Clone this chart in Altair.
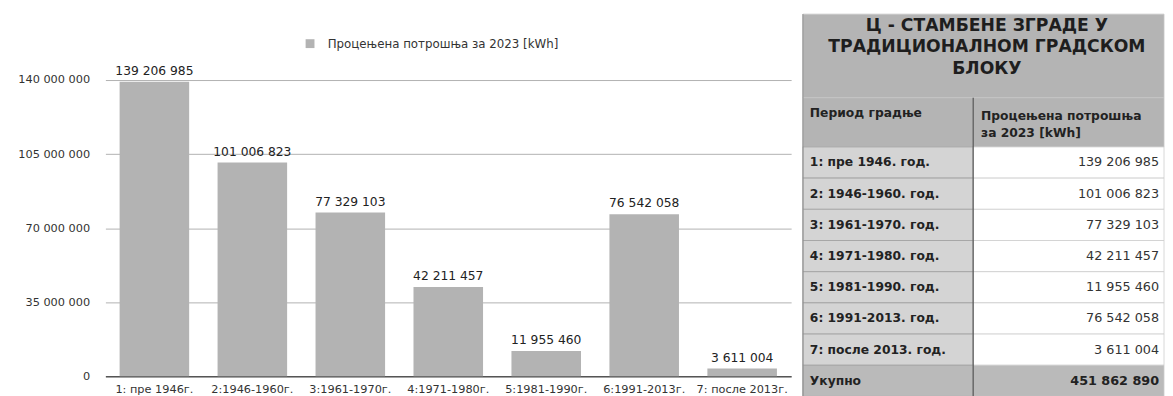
import altair as alt
import pandas as pd

# ---------------- data ----------------
categories = ["1: пре 1946г.", "2:1946-1960г.", "3:1961-1970г.", "4:1971-1980г.",
              "5:1981-1990г.", "6:1991-2013г.", "7: после 2013г."]
table_periods = ["1: пре 1946. год.", "2: 1946-1960. год.", "3: 1961-1970. год.",
                 "4: 1971-1980. год.", "5: 1981-1990. год.", "6: 1991-2013. год.",
                 "7: после 2013. год."]
values = [139206985, 101006823, 77329103, 42211457, 11955460, 76542058, 3611004]
series_name = "Процењена потрошња за 2023 [kWh]"
y_ticks = [0, 35000000, 70000000, 105000000, 140000000]
table_title = "Ц - СТАМБЕНЕ ЗГРАДЕ У\nТРАДИЦИОНАЛНОМ ГРАДСКОМ\nБЛОКУ"
header_left = "Период градње"
header_right = "Процењена потрошња\nза 2023 [kWh]"
total_label = "Укупно"


def fmt(v):
    return f"{v:,}".replace(",", " ")


# ---------------- style / layout ----------------
FONT = "DejaVu Sans"
BAR_COLOR = "#b3b3b3"
TITLE_BG = "#b4b4b4"
LABEL_BG = "#d4d4d4"
TOTAL_BG = "#bababa"

BAR_W, BAR_H = 697, 370
Y_MAX = 140000000 * BAR_H / 301.0

TW, TH = 367, 391
T_TOP, T_BOT, H_BOT, ROW_H, SPLIT = 2, 87, 137, 31.7, 173

# ---------------- bar chart ----------------
bar_df = pd.DataFrame({
    "period": categories,
    "value": values,
    "label": [fmt(v) for v in values],
    "series": [series_name] * len(values),
})

x_enc = alt.X("period:N", sort=categories,
              scale=alt.Scale(paddingInner=0.29, paddingOuter=0.145),
              axis=alt.Axis(title=None, labelAngle=0, ticks=False, labelPadding=8,
                            labelFontSize=11.5, labelColor="#333", domainColor="#555",
                            domainWidth=1.5, labelOverlap=False, grid=False))
y_enc = alt.Y("value:Q", scale=alt.Scale(domain=[0, Y_MAX], nice=False, zero=True),
              axis=alt.Axis(title=None, values=y_ticks, ticks=False, domain=False,
                            labelPadding=16, labelFontSize=11.5, labelColor="#333",
                            gridColor="#b0b0b0", gridWidth=1,
                            labelExpr="join(split(format(datum.value, ','), ','), ' ')"))

bars = alt.Chart(bar_df).mark_bar(color=BAR_COLOR).encode(
    x=x_enc, y=y_enc,
    color=alt.Color("series:N", scale=alt.Scale(range=[BAR_COLOR]),
                    legend=alt.Legend(title=None, orient="none", legendX=202, legendY=26,
                                      symbolType="square", symbolSize=81,
                                      symbolStrokeWidth=0, labelFontSize=12,
                                      labelOffset=12, labelColor="#333", labelLimit=0)),
)
bar_text = alt.Chart(bar_df).mark_text(baseline="bottom", dy=-4, fontSize=12.5,
                                       color="#222").encode(
    x=alt.X("period:N", sort=categories), y="value:Q", text="label:N")

bar_chart = alt.layer(bars, bar_text).properties(width=BAR_W, height=BAR_H)

# ---------------- table ----------------
cells = [dict(x=0, x2=TW, y=T_TOP, y2=T_BOT, fill=TITLE_BG, line="#c6c6c6"),
         dict(x=0, x2=SPLIT, y=T_BOT, y2=H_BOT, fill=TITLE_BG, line="#c6c6c6"),
         dict(x=SPLIT, x2=TW, y=T_BOT, y2=H_BOT, fill=TITLE_BG, line="#c6c6c6")]
row_labels = table_periods + [total_label]
row_values = [fmt(v) for v in values] + [fmt(sum(values))]
text_rows = []
for i, (lab, val) in enumerate(zip(row_labels, row_values)):
    y0 = H_BOT + i * ROW_H
    total = i == len(row_labels) - 1
    cells.append(dict(x=0, x2=SPLIT, y=y0, y2=y0 + ROW_H,
                      fill=TOTAL_BG if total else LABEL_BG, line="#a0a0a0"))
    cells.append(dict(x=SPLIT, x2=TW, y=y0, y2=y0 + ROW_H,
                      fill=TOTAL_BG if total else "#ffffff", line="#cdcdcd"))
    text_rows.append(dict(y=y0 + ROW_H / 2, label=lab, value=val,
                          total=1 if total else 0))
cells_df = pd.DataFrame(cells)
rows_df = pd.DataFrame(text_rows)

tx = alt.Scale(domain=[0, TW], nice=False, zero=False)
ty = alt.Scale(domain=[0, TH], nice=False, zero=False, reverse=True)

rects = alt.Chart(cells_df).mark_rect(strokeWidth=0.8).encode(
    x=alt.X("x:Q", scale=tx, axis=None), x2="x2:Q",
    y=alt.Y("y:Q", scale=ty, axis=None), y2="y2:Q",
    fill=alt.Fill("fill:N", scale=None),
    stroke=alt.Stroke("line:N", scale=None))

rules_df = pd.DataFrame([dict(x=SPLIT, y=T_BOT, y2=TH, c="#3a3a3a"),
                         dict(x=0, y=T_TOP, y2=TH, c="#8a8a8a")])
rules = alt.Chart(rules_df).mark_rule(strokeWidth=1).encode(
    x=alt.X("x:Q", scale=tx, axis=None),
    y=alt.Y("y:Q", scale=ty, axis=None), y2="y2:Q",
    color=alt.Color("c:N", scale=None))

title_df = pd.DataFrame([dict(x=187, y=14, t=table_title)])
title_txt = alt.Chart(title_df).mark_text(fontWeight="bold", fontSize=17.5,
                                          lineBreak="\n", lineHeight=22,
                                          align="center", baseline="middle",
                                          color="#1e1e1e").encode(
    x=alt.X("x:Q", scale=tx, axis=None), y=alt.Y("y:Q", scale=ty, axis=None), text="t:N")

hdr_df = pd.DataFrame([dict(x=7, y=103, t=header_left),
                       dict(x=SPLIT + 8, y=106, t=header_right)])
hdr_txt = alt.Chart(hdr_df).mark_text(fontWeight="bold", fontSize=12.5, lineBreak="\n",
                                      lineHeight=17, align="left", baseline="middle",
                                      color="#222").encode(
    x=alt.X("x:Q", scale=tx, axis=None), y=alt.Y("y:Q", scale=ty, axis=None), text="t:N")

lab_txt = alt.Chart(rows_df).mark_text(fontWeight="bold", fontSize=12.5, align="left",
                                       baseline="middle", color="#222", dx=7).encode(
    x=alt.X("x0:Q", scale=tx, axis=None), y=alt.Y("y:Q", scale=ty, axis=None),
    text="label:N").transform_calculate(x0="0")

val_txt = alt.Chart(rows_df).mark_text(fontSize=13, align="right", baseline="middle",
                                       color="#333", dx=-5).encode(
    x=alt.X("xr:Q", scale=tx, axis=None), y=alt.Y("y:Q", scale=ty, axis=None),
    text="value:N"
).transform_filter("datum.total == 0").transform_calculate(xr=str(TW))

tot_txt = alt.Chart(rows_df).mark_text(fontSize=13, fontWeight="bold", align="right",
                                       baseline="middle", color="#222", dx=-5).encode(
    x=alt.X("xr:Q", scale=tx, axis=None), y=alt.Y("y:Q", scale=ty, axis=None),
    text="value:N"
).transform_filter("datum.total == 1").transform_calculate(xr=str(TW))

table = alt.layer(rects, rules, title_txt, hdr_txt, lab_txt, val_txt, tot_txt).properties(
    width=TW, height=TH)

chart = alt.hconcat(bar_chart, table, spacing=10).properties(
    padding={"left": 9, "top": 0, "right": 0, "bottom": 0}
).configure(font=FONT).configure_view(stroke="transparent")

chart.save("out.html", embed_options={"renderer": "svg", "actions": False})
